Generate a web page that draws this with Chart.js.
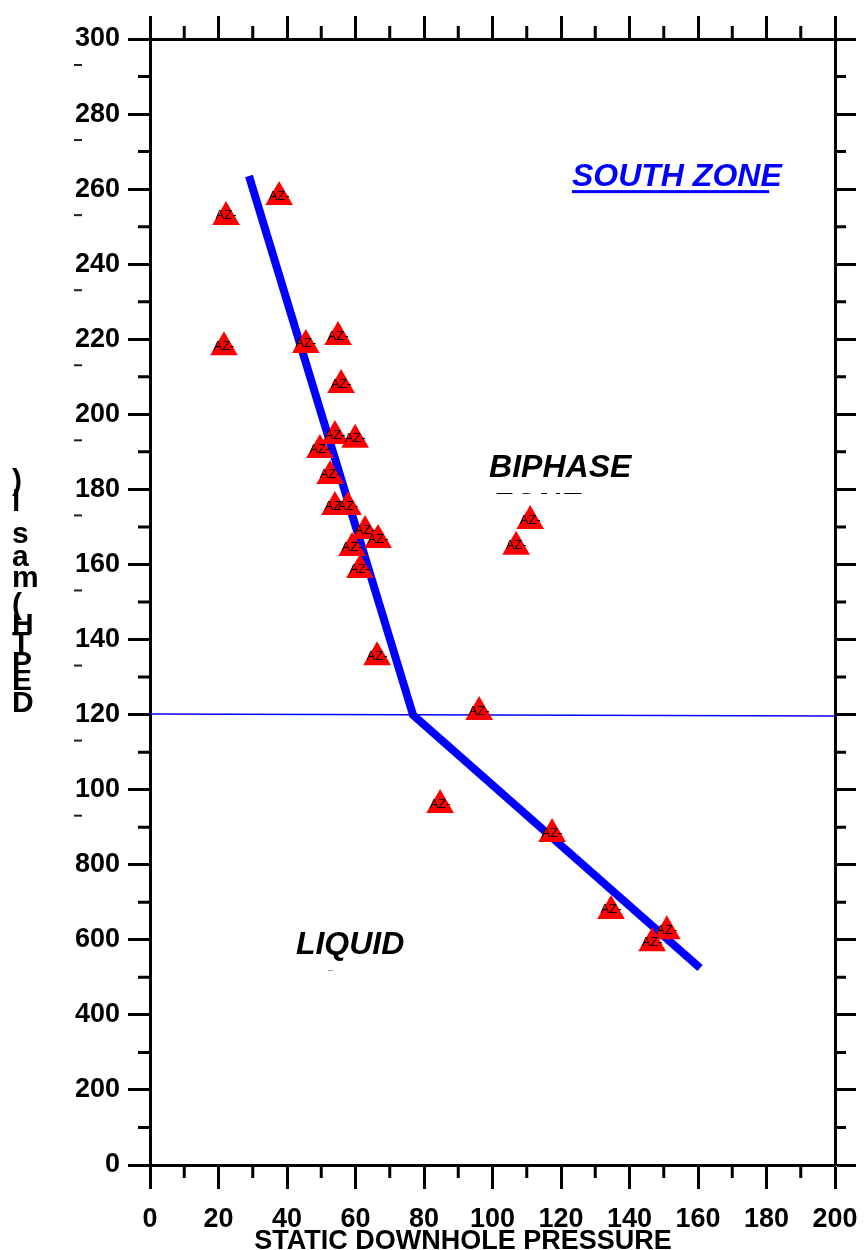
<!DOCTYPE html>
<html>
<head>
<meta charset="utf-8">
<script src="https://cdn.jsdelivr.net/npm/chart.js@4.4.1/dist/chart.umd.min.js"></script>
<style>
html,body{margin:0;padding:0;background:#fff;overflow:hidden;}
#wrap{width:864px;height:1250px;position:relative;}
</style>
</head>
<body>
<div id="wrap"><canvas id="c"></canvas></div>
<script>
// ---- data ----
const xTickLabels = ['0','20','40','60','80','100','120','140','160','180','200'];
const yTickLabels = ['0','200','400','600','800','100','120','140','160','180','200','220','240','260','280','300'];
const pointX = [22.2, 37.7, 21.6, 45.5, 54.9, 55.8, 54.0, 59.9, 49.6, 52.6, 54.0, 57.8, 62.8, 66.6, 59.0, 61.3, 66.3, 111.0, 106.9, 96.1, 84.7, 117.4, 134.6, 146.6, 150.9];
const pointY = [2526, 2579, 2179, 2185, 2206, 2078, 1942, 1932, 1905, 1836, 1753, 1753, 1689, 1665, 1644, 1585, 1353, 1716, 1647, 1207, 959, 882, 677, 591, 623];
const pointLabel = 'AZ-';
const trendX = [28.9, 76.8, 160.6];
const trendY = [2635, 1199, 525];
const boundaryX = [0, 200];
const boundaryY = [1201.5, 1196];
const zoneText = ['SOUTH ZONE', 'BIPHASE', 'LIQUID'];
const zoneX = [123.2, 99.0, 42.6];
const zoneY = [2632, 1857, 586];
const xTitle = 'STATIC DOWNHOLE PRESSURE';
const yTitle = 'DEPTH (masl)';

const FONT = "'Liberation Sans', Arial, sans-serif";

const pts = pointX.map((x, i) => ({x, y: pointY[i]}));
const trend = trendX.map((x, i) => ({x, y: trendY[i]}));
const boundary = boundaryX.map((x, i) => ({x, y: boundaryY[i]}));

const extras = {
  id: 'extras',
  afterDatasetsDraw(chart) {
    const ctx = chart.ctx;
    const meta = chart.getDatasetMeta(0);
    ctx.save();
    ctx.fillStyle = '#000';
    ctx.font = '13px ' + FONT;
    ctx.textAlign = 'center';
    ctx.textBaseline = 'middle';
    meta.data.forEach(el => { ctx.fillText(pointLabel, el.x, el.y - 1); });
    ctx.restore();
  },
  afterDraw(chart) {
    const ctx = chart.ctx;
    const xs = chart.scales.x, ys = chart.scales.y;
    const area = chart.chartArea;
    ctx.save();
    // minor ticks
    ctx.strokeStyle = '#000';
    ctx.lineWidth = 3;
    ctx.beginPath();
    for (let v = 10; v < 200; v += 20) {
      const px = xs.getPixelForValue(v);
      ctx.moveTo(px, area.bottom); ctx.lineTo(px, area.bottom + 13);
      ctx.moveTo(px, area.top); ctx.lineTo(px, area.top - 13);
    }
    for (let v = 100; v < 3000; v += 200) {
      const py = ys.getPixelForValue(v);
      ctx.moveTo(area.left, py); ctx.lineTo(area.left - 12, py);
      ctx.moveTo(area.right, py); ctx.lineTo(area.right + 11, py);
    }
    ctx.stroke();
    // small clipped remnants under the truncated y labels
    ctx.fillStyle = '#222';
    for (let v = 1000; v <= 3000; v += 200) {
      const py = ys.getPixelForValue(v);
      ctx.fillRect(74, py + 25, 8, 2);
    }
    // zone labels
    ctx.textAlign = 'left';
    ctx.textBaseline = 'middle';
    zoneText.forEach((t, i) => {
      const px = xs.getPixelForValue(zoneX[i]);
      const py = ys.getPixelForValue(zoneY[i]);
      ctx.font = 'italic bold 32px ' + FONT;
      if (i === 0) {
        ctx.fillStyle = '#0000ff';
        ctx.fillText(t, px, py);
        const w = ctx.measureText(t).width;
        ctx.fillRect(px, py + 13, w * 0.94, 3);
      } else {
        ctx.fillStyle = '#000';
        ctx.fillText(t, px, py);
      }
      if (i === 1) {
        ctx.save();
        ctx.beginPath();
        ctx.rect(px - 5, py + 21, 200, 5);
        ctx.clip();
        ctx.fillText('ZONE', px + 3, py + 38);
        ctx.restore();
      }
      if (i === 2) {
        ctx.fillStyle = '#999';
        ctx.fillRect(px + 32, py + 25, 5, 1);
      }
    });
    // x title
    ctx.fillStyle = '#000';
    ctx.font = 'bold 27px ' + FONT;
    ctx.textAlign = 'center';
    ctx.textBaseline = 'alphabetic';
    ctx.fillText(xTitle, 463, 1249);
    // y title: stacked characters (as in reference)
    const chars = [')', 'l', 's', 'a', 'm', '(', 'H', 'T', 'P', 'E', 'D'];
    const bases = [490, 511, 543, 566, 587, 614, 634, 652, 672, 690, 712];
    ctx.font = 'bold 30px ' + FONT;
    ctx.textAlign = 'left';
    chars.forEach((ch, i) => ctx.fillText(ch, 12, bases[i]));
    ctx.restore();
  }
};

const gridCommon = (len) => ({drawOnChartArea: false, drawTicks: true, tickLength: len, tickWidth: 3, tickColor: '#000'});
const borderCommon = {display: true, color: '#000', width: 3};
const tickFont = {family: FONT, size: 27, weight: 'bold'};
const noPad = (s) => { s.paddingLeft = 0; s.paddingRight = 0; s.paddingTop = 0; s.paddingBottom = 0; };

new Chart(document.getElementById('c'), {
  type: 'scatter',
  data: {
    datasets: [
      {
        label: 'wells', data: pts, order: 0,
        pointStyle: 'triangle', pointRadius: 16, pointHoverRadius: 16,
        backgroundColor: '#ff0000', borderColor: '#ff0000', borderWidth: 0
      },
      {
        type: 'line', label: 'trend', data: trend, order: 1,
        borderColor: '#0000ff', borderWidth: 8, pointRadius: 0, tension: 0, fill: false,
        borderCapStyle: 'butt', borderJoinStyle: 'miter'
      },
      {
        type: 'line', label: 'boundary', data: boundary, order: 2,
        borderColor: '#0000ff', borderWidth: 1.5, pointRadius: 0, tension: 0, fill: false
      }
    ]
  },
  options: {
    responsive: true,
    maintainAspectRatio: false,
    animation: false,
    devicePixelRatio: 1,
    layout: {padding: 0},
    plugins: {legend: {display: false}, tooltip: {enabled: false}},
    scales: {
      x: {
        type: 'linear', position: 'bottom', min: 0, max: 200,
        ticks: {stepSize: 20, autoSkip: false, maxRotation: 0, padding: 14, color: '#000', font: tickFont,
          callback: (v) => xTickLabels[Math.round(v / 20)] ?? ''},
        grid: gridCommon(24), border: borderCommon,
        afterFit(s) { s.height = 85; noPad(s); }
      },
      x2: {
        type: 'linear', position: 'top', min: 0, max: 200,
        ticks: {stepSize: 20, display: false},
        grid: gridCommon(23), border: borderCommon,
        afterFit(s) { s.height = 39; noPad(s); }
      },
      y: {
        type: 'linear', position: 'left', min: 0, max: 3000,
        ticks: {stepSize: 200, autoSkip: false, padding: 8, color: '#000', font: tickFont,
          callback: (v) => yTickLabels[Math.round(v / 200)] ?? ''},
        grid: gridCommon(22), border: borderCommon,
        afterFit(s) { s.width = 150; noPad(s); }
      },
      y2: {
        type: 'linear', position: 'right', min: 0, max: 3000,
        ticks: {stepSize: 200, display: false},
        grid: gridCommon(21), border: borderCommon,
        afterFit(s) { s.width = 29; noPad(s); }
      }
    }
  },
  plugins: [extras]
});
</script>
</body>
</html>
